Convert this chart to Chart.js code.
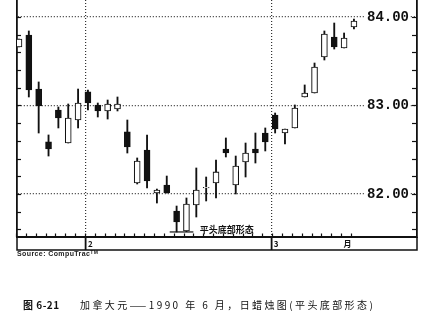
<!DOCTYPE html>
<html><head><meta charset="utf-8">
<script src="https://cdn.jsdelivr.net/npm/chart.js@4.4.1/dist/chart.umd.min.js"></script>
<style>
html,body{margin:0;padding:0;background:#fff;}
#wrap{position:relative;width:428px;height:312px;overflow:hidden;background:#fff;}
#c{position:absolute;left:0;top:0;}
#src{position:absolute;left:17px;top:250px;font:bold 7px "Liberation Sans",Arial,sans-serif;color:#222;letter-spacing:0.4px;white-space:pre;}
#src sup{font-size:5px;vertical-align:top;position:relative;top:-1px;}
.cap{position:absolute;top:299px;font:10px "Noto Sans CJK SC",sans-serif;color:#111;white-space:pre;line-height:12px;}
#cap1{left:23px;font-weight:bold;letter-spacing:0.5px;}
#cap2{left:80px;letter-spacing:2.4px;}
</style></head><body>
<div id="wrap">
<canvas id="c" width="428" height="256"></canvas>
<div id="src">Source: CompuTrac<sup>TM</sup></div>
<div class="cap" id="cap1">图 6-21</div>
<div class="cap" id="cap2">加拿大元——1990 年 6 月，日蜡烛图(平头底部形态)</div>
</div>
<script>
// ---- data ----
const days   = [0,1,2,3,4,5,6,7,8,9,10,11,12,13,14,15,16,17,18,19,20,21,22,23,24,25,26,27,28,29,30,31,32,33,34];
const openP  = [83.661,83.797,83.186,82.588,82.949,82.576,82.836,83.153,83.006,82.938,82.960,82.701,82.124,82.497,82.011,82.102,81.808,81.582,81.876,82.068,82.124,82.508,82.102,82.362,82.508,82.689,82.893,82.689,82.746,83.096,83.141,83.548,83.774,83.650,83.887];
const highP  = [83.751,83.842,83.266,82.667,82.983,83.017,83.186,83.175,83.028,83.062,83.096,82.836,82.407,82.667,82.056,82.203,81.864,81.955,82.294,82.192,82.384,82.633,82.429,82.576,82.689,82.746,82.915,82.734,83.006,83.232,83.480,83.842,83.932,83.819,83.977];
const lowP   = [83.661,83.096,82.689,82.429,82.746,82.576,82.746,82.949,82.870,82.847,82.938,82.463,82.113,82.068,81.898,82.011,81.571,81.575,81.740,81.921,81.955,82.418,82.000,82.192,82.350,82.486,82.689,82.565,82.746,83.096,83.141,83.514,83.638,83.650,83.864];
const closeP = [83.751,83.175,82.994,82.508,82.859,82.859,83.028,83.028,82.938,83.017,83.017,82.531,82.373,82.147,82.045,82.011,81.684,81.887,82.045,82.075,82.249,82.463,82.316,82.463,82.463,82.588,82.734,82.734,82.972,83.141,83.435,83.808,83.661,83.763,83.955];

const yTickValues  = [81.6,81.8,82.0,82.2,82.4,82.6,82.8,83.0,83.2,83.4,83.6,83.8,84.0];
const yLabelValues = [82,83,84];
const monthBreaks   = [6.8, 25.68];
const monthLabels   = ['2','3','月'];
const monthLabelPos = [7.25, 26.1, 33.35];
const flatBottomX = [15.3, 17.7];
const flatBottomY = 81.571;
const annText = '平头底部形态';
const annX = 18.35, annY = 81.597;

const INK = '#111';
const near = (a,b)=>Math.abs(a-b)<1e-6;
const isBreak = v => monthBreaks.some(b=>near(b,v));

const wickData = days.map((d,i)=>({x:d, y:[lowP[i], highP[i]]}));
const bodyData = days.map((d,i)=>({x:d, y:[Math.min(openP[i],closeP[i]), Math.max(openP[i],closeP[i])]}));
const bodyFill = days.map((d,i)=> closeP[i] >= openP[i] ? '#ffffff' : INK);

const framePlugin = {
  id:'frame',
  afterDraw(chart){
    const {ctx, chartArea:a, scales:{x,y}} = chart;
    ctx.save();
    ctx.strokeStyle = INK;
    ctx.lineWidth = 1.2;
    yTickValues.forEach(v=>{
      const py = Math.round(y.getPixelForValue(v))+0.5;
      ctx.beginPath(); ctx.moveTo(a.left, py); ctx.lineTo(a.left+4, py); ctx.stroke();
      ctx.beginPath(); ctx.moveTo(a.right-5, py); ctx.lineTo(a.right, py); ctx.stroke();
    });
    days.forEach(d=>{
      const px = Math.round(x.getPixelForValue(d-0.3))+0.5;
      ctx.beginPath(); ctx.moveTo(px, a.bottom); ctx.lineTo(px, a.bottom-3.5); ctx.stroke();
    });
    ctx.lineWidth = 1.5;
    ctx.beginPath();
    ctx.moveTo(a.left, a.bottom); ctx.lineTo(a.left, x.bottom);
    ctx.lineTo(a.right, x.bottom); ctx.lineTo(a.right, a.bottom);
    ctx.stroke();
    ctx.restore();
  },
  afterDatasetsDraw(chart){
    const {ctx, scales:{x,y}} = chart;
    ctx.save();
    ctx.fillStyle = INK;
    ctx.font = 'bold 9px "Noto Sans CJK SC"';
    ctx.textBaseline = 'middle';
    ctx.textAlign = 'left';
    ctx.fillText(annText, x.getPixelForValue(annX), y.getPixelForValue(annY));
    ctx.restore();
  }
};

const noPad = s => { s.paddingTop = 0; s.paddingBottom = 0; s.paddingLeft = 0; s.paddingRight = 0; };

new Chart(document.getElementById('c'), {
  data:{
    datasets:[
      {type:'bar', data:wickData, backgroundColor:INK, borderWidth:0, barThickness:1.2, grouped:false, order:3},
      {type:'bar', data:bodyData, backgroundColor:bodyFill, borderColor:INK, borderWidth:1.1, borderSkipped:false, barThickness:6, grouped:false, order:2},
      {type:'line', data:flatBottomX.map(v=>({x:v, y:flatBottomY})), borderColor:INK, borderWidth:1.2, pointRadius:0, order:1}
    ]
  },
  options:{
    responsive:false, devicePixelRatio:1, animation:false,
    layout:{padding:{left:17, right:11, top:0, bottom:6}},
    plugins:{legend:{display:false}, tooltip:{enabled:false}, title:{display:false}},
    scales:{
      x:{
        type:'linear', position:'bottom', min:-0.2, max:40.4, offset:false,
        afterBuildTicks(s){ s.ticks = [...monthBreaks, ...monthLabelPos].sort((a,b)=>a-b).map(v=>({value:v})); },
        afterFit(s){ s.height = 13; noPad(s); },
        ticks:{
          autoSkip:false, maxRotation:0, minRotation:0, padding:-11,
          color:INK, font:{family:'"Noto Sans CJK SC","Liberation Sans"', size:8, weight:'bold'},
          callback(v){ const k = monthLabelPos.findIndex(p=>near(p,v)); return k>=0 ? monthLabels[k] : ''; }
        },
        grid:{
          offset:false, drawOnChartArea:true, drawTicks:true, tickLength:13,
          color:c=> (c.tick && isBreak(c.tick.value)) ? '#333' : 'rgba(0,0,0,0)',
          tickColor:c=> (c.tick && isBreak(c.tick.value)) ? INK : 'rgba(0,0,0,0)',
          lineWidth:1.2, tickWidth:1.8
        },
        border:{display:true, color:INK, width:2, dash:[1,2]}
      },
      y:{
        type:'linear', position:'left', min:81.514, max:84.192,
        afterBuildTicks(s){ s.ticks = yTickValues.map(v=>({value:v})); },
        afterFit(s){ s.width = 0; noPad(s); },
        ticks:{display:false},
        grid:{
          drawTicks:false,
          color:c=> (c.tick && Math.abs(c.tick.value-Math.round(c.tick.value))<1e-6) ? '#333' : 'rgba(0,0,0,0)',
          lineWidth:1.2
        },
        border:{display:true, color:INK, width:1.8, dash:[1,2]}
      },
      y2:{
        type:'linear', position:'right', min:81.514, max:84.192,
        afterBuildTicks(s){ s.ticks = yLabelValues.map(v=>({value:v})); },
        afterFit(s){ s.width = 0; noPad(s); },
        ticks:{
          mirror:true, padding:-8, z:1, color:INK,
          font:{family:'"Liberation Mono","DejaVu Sans Mono",monospace', size:14, weight:'bold'},
          callback:v=>Number(v).toFixed(2),
          showLabelBackdrop:true, backdropColor:'#ffffff', backdropPadding:{left:3,right:1,top:0,bottom:0}
        },
        grid:{drawOnChartArea:false, drawTicks:false},
        border:{display:true, color:INK, width:1.8}
      }
    }
  },
  plugins:[framePlugin]
});
</script>
</body></html>
